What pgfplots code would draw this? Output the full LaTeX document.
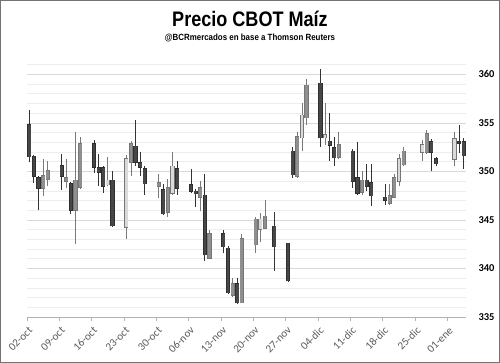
\documentclass[border=0pt]{standalone}
\usepackage{fontspec}
\setmainfont{Carlito}
\newfontfamily\condfont[FakeStretch=0.86]{Liberation Sans}
\newfontfamily\subfont[FakeStretch=0.88]{Liberation Sans}
\usepackage{pgfplots}
\pgfplotsset{compat=1.18}
\usepackage{pgfplotstable}

% x = day since 02-oct + 0.5 ; o h l c
\pgfplotstableread{
x o h l c
0.5 354.8 356.3 351.0 351.5
1.5 351.56 351.66 348.81 349.49
2.5 349.33 349.49 345.98 348.25
7.5 350.6 351.81 348.12 349.49
9.5 348.74 348.87 345.57 345.98
14.5 352.87 353.29 349.84 350.46
15.5 350.36 351.81 348.53 349.91
16.5 350.36 350.6 347.78 348.46
18.5 349.08 350.01 344.27 344.4
23.5 352.59 355.28 350.53 350.94
24.5 350.88 352.01 349.57 350.46
25.5 350.29 350.53 347.6 348.74
29.5 348.12 348.74 345.54 345.64
32.5 350.29 351.04 347.6 348.3
35.5 348.6 350.26 347.78 347.94
36.5 347.94 348.22 346.29 347.71
38.5 347.53 349.74 340.82 341.4
42.5 343.57 343.99 341.58 342.26
43.5 342.1 342.33 337.38 337.51
45.5 338.41 339.0 336.31 336.48
53.5 344.33 345.78 339.78 342.26
56.5 342.61 342.61 338.65 338.75
57.5 352.08 352.53 349.33 349.67
63.5 359.07 360.52 352.53 353.46
65.5 353.11 356.04 351.04 352.7
66.5 352.43 353.56 350.53 351.4
70.5 352.08 352.32 348.3 348.98
71.5 349.33 353.05 347.6 347.78
73.5 349.08 350.81 348.02 348.46
74.5 348.81 350.81 346.47 347.5
77.5 347.32 348.74 346.57 347.01
87.5 353.05 353.39 350.01 351.97
88.5 351.32 351.5 350.53 350.81
93.5 353.05 354.83 351.91 352.9
94.5 353.05 353.46 350.26 351.63
}\downdata

\pgfplotstableread{
x o h l c
3.5 348.25 351.29 347.5 349.57
4.5 349.22 351.04 348.46 350.08
8.5 348.98 351.29 348.3 349.33
10.5 345.98 354.04 342.54 349.08
11.5 348.4 353.52 348.19 352.87
22.5 350.94 353.11 349.57 352.87
28.5 348.46 349.77 347.26 348.81
30.5 345.78 349.26 345.3 348.3
37.5 347.37 349.05 345.88 348.3
39.5 341.06 343.99 340.96 343.57
44.5 337.27 339.0 337.1 338.41
46.5 336.48 343.57 336.42 343.03
49.5 342.44 345.3 341.58 345.09
51.5 344.16 347.01 344.06 345.36
58.5 349.49 354.04 349.33 353.56
60.5 355.53 359.56 354.83 358.86
67.5 351.46 354.04 351.29 352.77
72.5 347.84 350.01 347.6 349.08
78.5 346.75 348.74 346.57 347.5
79.5 347.37 349.77 347.26 349.33
81.5 350.7 352.49 350.53 352.08
86.5 351.97 354.25 351.84 353.9
}\updata

\pgfplotstableread{
x o h l c
17.5 348.64 351.5 348.46 349.08
21.5 344.27 351.74 343.03 351.32
31.5 347.78 352.01 347.6 350.53
50.5 344.06 345.71 342.78 345.09
59.5 353.46 357.08 352.08 355.8
64.5 353.46 357.08 352.77 353.8
80.5 348.98 351.84 348.46 351.32
85.5 351.97 353.21 351.04 352.77
92.5 351.29 354.04 350.6 353.36
}\uphdata

\definecolor{downfill}{HTML}{474747}
\definecolor{downedge}{HTML}{2E2E2E}
\definecolor{upfill}{HTML}{8F8F8F}
\definecolor{upedge}{HTML}{767676}
\definecolor{uphfill}{HTML}{DADADA}
\definecolor{wickdown}{HTML}{333333}
\definecolor{wickup}{HTML}{7A7A7A}
\definecolor{ticktext}{HTML}{595959}

\pgfplotsset{
  wick/.style={draw=none, mark=none, error bars/.cd, y dir=plus, y explicit, error mark=none,
     error bar style={draw=#1, line width=0.9bp}},
  body/.style 2 args={draw=none, mark=none, error bars/.cd, y dir=plus, y explicit, error mark=none,
     error bar style={draw=#1, line width=#2}},
}

\begin{document}
\begin{tikzpicture}
\useasboundingbox (0,0) rectangle (500bp,363bp);
\draw[black!55, line width=1.2bp] (0.6bp,0.6bp) rectangle (499.4bp,362.4bp);
\node[font=\condfont\bfseries\fontsize{21bp}{24bp}\selectfont, anchor=base] at (250bp,336bp) {Precio CBOT Maíz};
\node[font=\subfont\bfseries\fontsize{9bp}{11bp}\selectfont, anchor=base] at (250bp,322.5bp) {@BCRmercados en base a Thomson Reuters};
\begin{axis}[
  at={(27bp,46bp)}, anchor=south west,
  width=439bp, height=262bp, scale only axis,
  xmin=0, xmax=95, ymin=335, ymax=362,
  axis x line*=bottom, axis y line*=right,
  x axis line style={draw=black!30, line width=0.8bp},
  y axis line style={draw=none},
  xtick={0,7,...,91},
  xticklabels={02-oct,09-oct,16-oct,23-oct,30-oct,06-nov,13-nov,20-nov,27-nov,04-dic,11-dic,18-dic,25-dic,01-ene},
  ytick={335,340,...,360},
  minor ytick={336,...,361},
  ymajorgrids, yminorgrids,
  major grid style={draw=black!15, line width=0.7bp},
  minor grid style={draw=black!7, line width=0.7bp},
  tick align=outside,
  xtick style={draw=black!30, line width=0.7bp},
  major tick length=4bp,
  ytick style={draw=none},
  /pgf/number format/assume math mode=true,
  yticklabel style={font=\bfseries\fontsize{10.5bp}{12bp}\selectfont, text=black, anchor=west, xshift=5bp},
  xticklabel style={font=\fontsize{11bp}{13bp}\selectfont, text=ticktext, rotate=45, anchor=east, xshift=0.5bp, yshift=-8bp},
  clip=false,
]
% wicks
\addplot[wick=wickdown] table[x=x, y=l, y error plus expr=\thisrow{h}-\thisrow{l}] {\downdata};
\addplot[wick=wickup] table[x=x, y=l, y error plus expr=\thisrow{h}-\thisrow{l}] {\updata};
\addplot[wick=wickup] table[x=x, y=l, y error plus expr=\thisrow{h}-\thisrow{l}] {\uphdata};
% bodies: down
\addplot[body={downedge}{4.2bp}] table[x=x, y expr=\thisrow{c}-0.06, y error plus expr=\thisrow{o}-\thisrow{c}+0.12] {\downdata};
\addplot[body={downfill}{2.8bp}] table[x=x, y=c, y error plus expr=\thisrow{o}-\thisrow{c}] {\downdata};
% bodies: up
\addplot[body={upedge}{4.2bp}] table[x=x, y expr=\thisrow{o}-0.06, y error plus expr=\thisrow{c}-\thisrow{o}+0.12] {\updata};
\addplot[body={upfill}{2.8bp}] table[x=x, y=o, y error plus expr=\thisrow{c}-\thisrow{o}] {\updata};
% bodies: up light
\addplot[body={upedge}{4.2bp}] table[x=x, y expr=\thisrow{o}-0.06, y error plus expr=\thisrow{c}-\thisrow{o}+0.12] {\uphdata};
\addplot[body={uphfill}{2.8bp}] table[x=x, y=o, y error plus expr=\thisrow{c}-\thisrow{o}] {\uphdata};
\end{axis}
\end{tikzpicture}
\end{document}
